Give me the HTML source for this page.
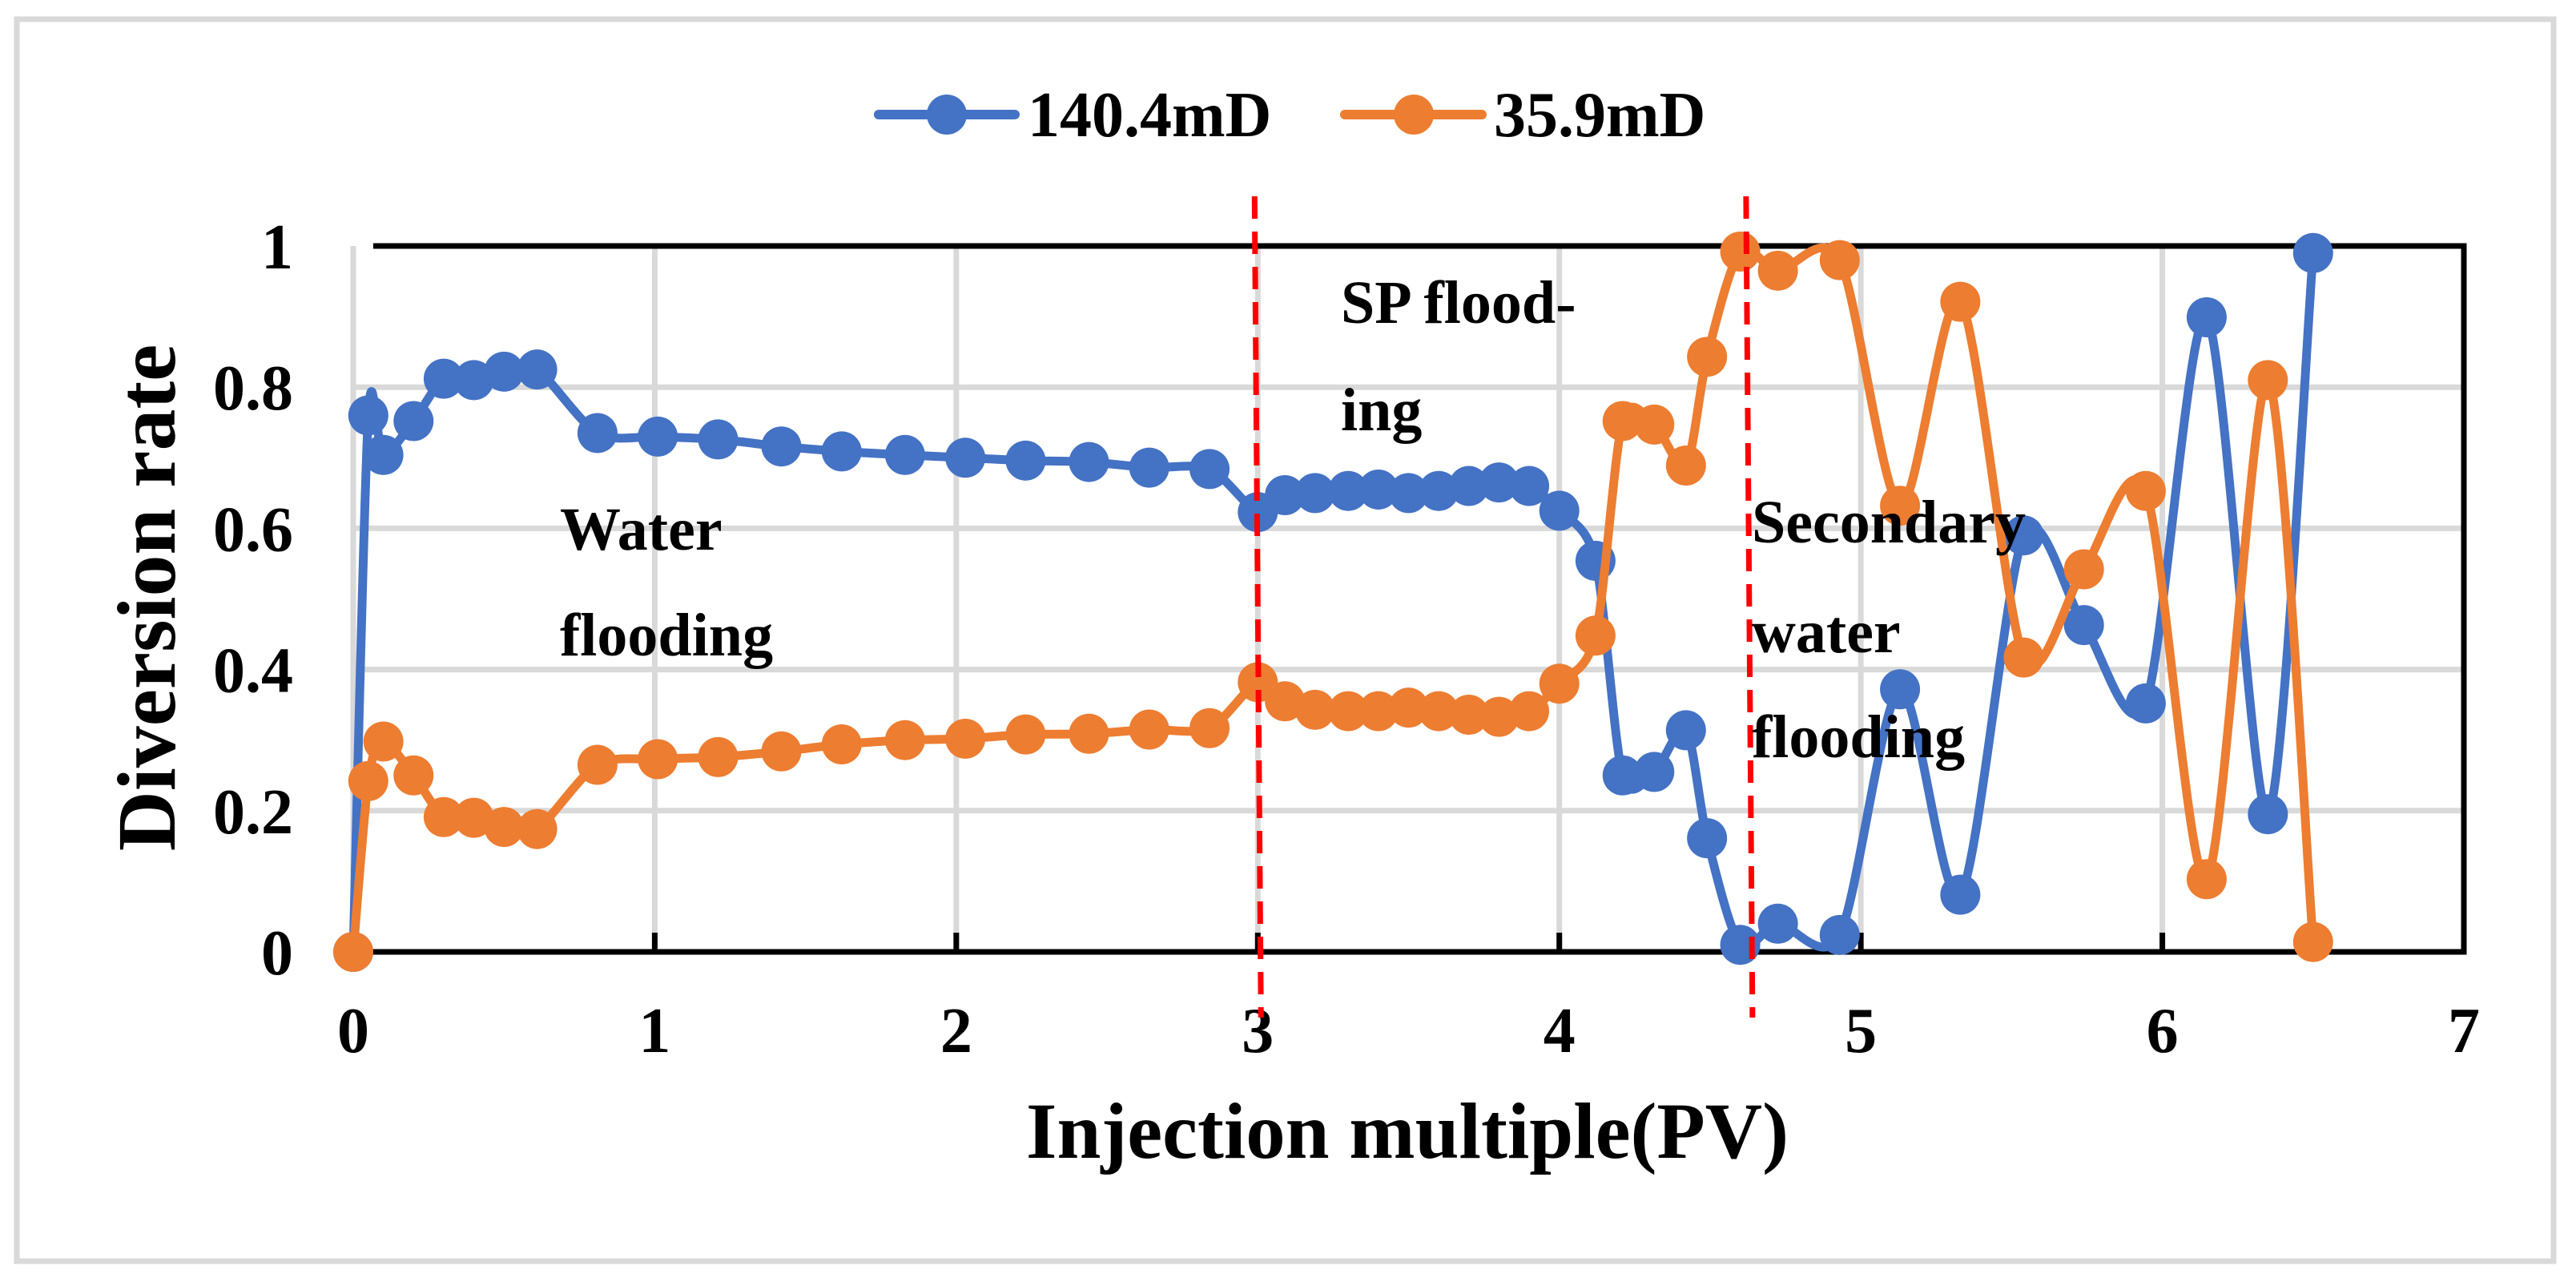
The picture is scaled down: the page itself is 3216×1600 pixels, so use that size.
<!DOCTYPE html>
<html><head><meta charset="utf-8"><style>
html,body{margin:0;padding:0;background:#fff;}
svg{display:block;}
svg text{font-family:"Liberation Serif","DejaVu Serif",serif;font-weight:bold;}
</style></head><body>
<svg id="chart" width="3216" height="1600" viewBox="0 0 3216 1600" font-family="Liberation Serif, DejaVu Serif, serif" font-weight="bold">
<rect x="21" y="24" width="3167" height="1550" fill="#fff" stroke="#d9d9d9" stroke-width="7"/>
<g id="grid"></g>
<g id="axes"></g>
<g id="series"></g>
<g id="annot">
<text x="699" y="686" font-size="76">Water</text>
<text x="699" y="818" font-size="76">flooding</text>
<text x="1674" y="403" font-size="76">SP flood-</text>
<text x="1674" y="537" font-size="76">ing</text>
<text x="2187" y="677" font-size="76">Secondary</text>
<text x="2187" y="814" font-size="76">water</text>
<text x="2187" y="945" font-size="76">flooding</text>
</g>
<text x="1757" y="1445" font-size="100" text-anchor="middle" textLength="952" lengthAdjust="spacingAndGlyphs">Injection multiple(PV)</text>
<text transform="translate(218,746) rotate(-90)" font-size="104" text-anchor="middle">Diversion rate</text>
<g>
<g>
<line x1="1097" y1="143" x2="1267" y2="143" stroke="#4472C4" stroke-width="12" stroke-linecap="round"/>
<circle cx="1182" cy="143" r="25" fill="#4472C4"/>
<text x="1283" y="170" font-size="80">140.4mD</text>
</g>
<g>
<line x1="1679" y1="143" x2="1850" y2="143" stroke="#ED7D31" stroke-width="12" stroke-linecap="round"/>
<circle cx="1765" cy="143" r="25" fill="#ED7D31"/>
<text x="1865" y="170" font-size="80">35.9mD</text>
</g>
</g>
</svg>
<script>
const xValues = [0,0.05,0.10,0.20,0.30,0.40,0.50,0.61,0.81,1.01,1.21,1.42,1.62,1.83,2.03,2.23,2.44,2.64,2.84,3.00,3.09,3.19,3.30,3.40,3.50,3.60,3.70,3.80,3.90,4.00,4.12,4.21,4.315,4.42,4.49,4.60,4.725,4.93,5.13,5.33,5.54,5.74,5.945,6.147,6.35,6.50];
const blueValues = [0,0.76,0.704,0.752,0.812,0.81,0.822,0.825,0.735,0.73,0.726,0.716,0.709,0.704,0.70,0.696,0.694,0.686,0.684,0.623,0.647,0.65,0.653,0.655,0.65,0.653,0.66,0.665,0.66,0.625,0.554,0.25,0.255,0.314,0.161,0.01,0.04,0.024,0.372,0.081,0.59,0.463,0.352,0.899,0.195,0.99];
const orangeValues = [0,0.242,0.298,0.25,0.191,0.19,0.177,0.174,0.265,0.273,0.276,0.284,0.294,0.30,0.302,0.308,0.309,0.315,0.317,0.382,0.355,0.343,0.341,0.341,0.346,0.341,0.336,0.333,0.341,0.38,0.448,0.752,0.747,0.689,0.843,0.992,0.965,0.98,0.632,0.921,0.417,0.542,0.653,0.103,0.81,0.014];
const xTicks = [0,1,2,3,4,5,6,7];
const yTicks = [0,0.2,0.4,0.6,0.8,1];
const yTickLabels = ["0","0.2","0.4","0.6","0.8","1"];
const phaseBoundaries = [3.0, 4.63];

const NS = "http://www.w3.org/2000/svg";
const X0 = 441, X1 = 3076, Y0 = 1188, Y1 = 307;
function sx(v){ return X0 + (X1 - X0) * v / 7; }
function sy(v){ return Y0 - (Y0 - Y1) * v; }
function mk(tag, attrs, parent){ const e = document.createElementNS(NS, tag); for (const k in attrs) e.setAttribute(k, attrs[k]); parent.appendChild(e); return e; }

const grid = document.getElementById('grid');
const axes = document.getElementById('axes');
const series = document.getElementById('series');

yTicks.forEach((t, i) => {
  if (t > 0 && t < 1) {
    const l = mk('line', {x1: X0, x2: X1, y1: sy(t), y2: sy(t), stroke: '#d9d9d9', 'stroke-width': 7}, grid);
    
    
  }
  const tx = mk('text', {x: 366, y: sy(t) + 28, 'font-size': 80, 'text-anchor': 'end'}, axes);
  tx.textContent = yTickLabels[i];
  
  
});
xTicks.forEach(t => {
  if (t > 0 && t < 7) {
    const l = mk('line', {x1: sx(t), x2: sx(t), y1: Y1, y2: Y0, stroke: '#d9d9d9', 'stroke-width': 7}, grid);
    
    
  }
  if (t > 0) {
    const tk = mk('line', {x1: sx(t), x2: sx(t), y1: Y0 - 24, y2: Y0, stroke: '#000', 'stroke-width': 7}, axes);
    
    
  }
  const tx = mk('text', {x: sx(t), y: sy(0) + 125, 'font-size': 80, 'text-anchor': 'middle'}, axes);
  tx.textContent = String(t);
  
  
});
const la = mk('line', {x1: X0, x2: X0, y1: Y1, y2: Y0, stroke: '#d9d9d9', 'stroke-width': 7}, axes);


const fr = mk('path', {d: `M${X0+25},${Y1} H${X1} V${Y0} H${X0}`, fill: 'none', stroke: '#000', 'stroke-width': 7}, axes);



function smoothPath(xs, ys){
  const p = xs.map((x, i) => [sx(x), sy(ys[i])]);
  let d = `M${p[0][0]},${p[0][1]}`;
  for (let i = 0; i < p.length - 1; i++) {
    const a = p[Math.max(0, i-1)], b = p[i], c = p[i+1], e = p[Math.min(p.length-1, i+2)];
    const t = 1/7;
    const c1 = [b[0] + (c[0]-a[0])*t, b[1] + (c[1]-a[1])*t];
    const c2 = [c[0] - (e[0]-b[0])*t, c[1] - (e[1]-b[1])*t];
    d += ` C${c1[0]},${c1[1]} ${c2[0]},${c2[1]} ${c[0]},${c[1]}`;
  }
  return d;
}
function drawSeries(vals, color, name){
  const g = mk('g', {}, series);
  
  
  const path = mk('path', {d: smoothPath(xValues, vals), fill: 'none', stroke: color, 'stroke-width': 11, 'stroke-linejoin': 'round'}, g);
  
  
  vals.forEach((v, i) => {
    const c = mk('circle', {cx: sx(xValues[i]), cy: sy(v), r: 25, fill: color}, g);
    
    
  });
}
drawSeries(blueValues, '#4472C4', 'series-140-4md');
drawSeries(orangeValues, '#ED7D31', 'series-35-9md');

phaseBoundaries.forEach(b => {
  const l = mk('line', {x1: sx(b) - 4, x2: sx(b) + 4, y1: 245, y2: 1270, stroke: '#ff0000', 'stroke-width': 7, 'stroke-dasharray': '28 16'}, series);
  
  
});
</script>
</body></html>
